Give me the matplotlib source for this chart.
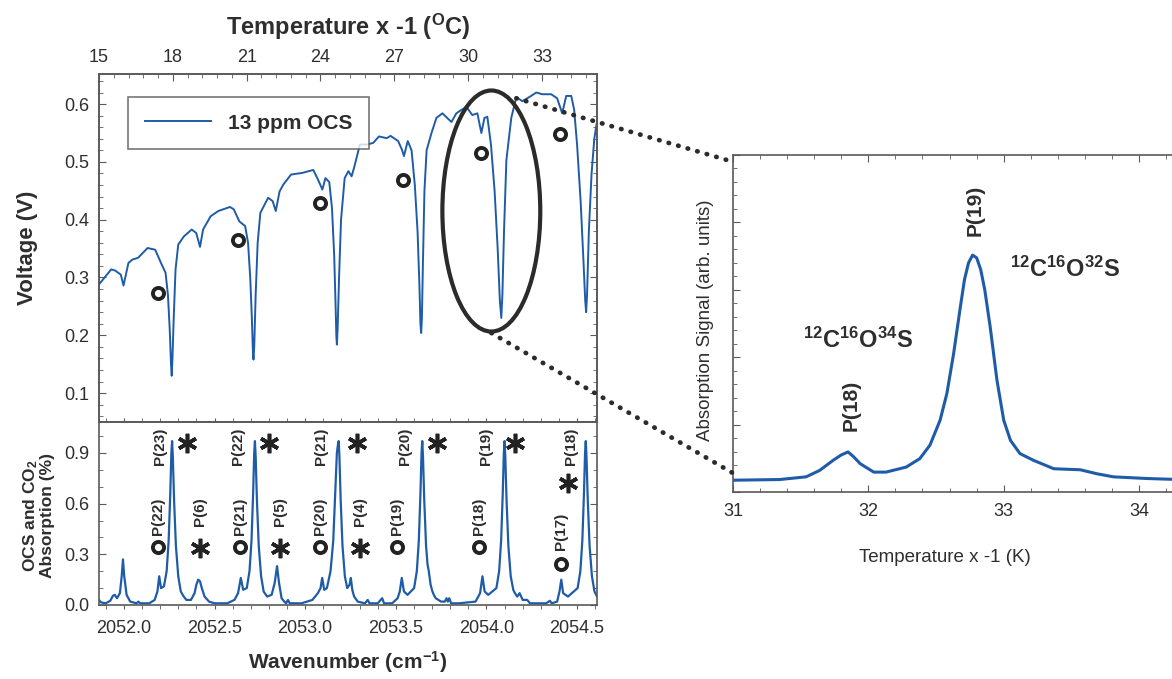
import numpy as np
import matplotlib
matplotlib.use("Agg")
import matplotlib.pyplot as plt
from matplotlib.patches import Ellipse, ConnectionPatch
from matplotlib.ticker import MultipleLocator, FormatStrFormatter

plt.rcParams['font.family'] = ['Liberation Sans', 'DejaVu Sans']
plt.rcParams['mathtext.fontset'] = 'custom'
plt.rcParams['mathtext.rm'] = 'Liberation Sans'
plt.rcParams['mathtext.bf'] = 'Liberation Sans:bold'
plt.rcParams['mathtext.it'] = 'Liberation Sans:italic'

BLUE = '#1f5ca8'
INK = '#2e2e2e'
SPINE = '#5a5a5a'

# --- top panel: detector voltage vs wavenumber (13 ppm OCS) ---
volt_wn = [2051.863, 2051.93, 2051.952, 2051.983, 2051.998, 2052.025, 2052.047, 2052.078,
           2052.131, 2052.173, 2052.205, 2052.230, 2052.243, 2052.253, 2052.260, 2052.264,
           2052.268, 2052.275, 2052.285, 2052.300, 2052.331, 2052.374, 2052.399, 2052.420,
           2052.437, 2052.479, 2052.521, 2052.585, 2052.606, 2052.637, 2052.669, 2052.685,
           2052.697, 2052.706, 2052.712, 2052.715, 2052.719, 2052.727, 2052.738, 2052.753,
           2052.796, 2052.821, 2052.838, 2052.859, 2052.880, 2052.922, 2052.985, 2053.045,
           2053.070, 2053.095, 2053.112, 2053.133, 2053.148, 2053.160, 2053.168, 2053.172,
           2053.175, 2053.179, 2053.187, 2053.198, 2053.218, 2053.239, 2053.256, 2053.270,
           2053.302, 2053.344, 2053.376, 2053.407, 2053.450, 2053.471, 2053.513, 2053.534,
           2053.545, 2053.566, 2053.587, 2053.605, 2053.620, 2053.630, 2053.636, 2053.640,
           2053.644, 2053.650, 2053.658, 2053.670, 2053.697, 2053.724, 2053.757, 2053.807,
           2053.834, 2053.862, 2053.890, 2053.922, 2053.950, 2053.972, 2053.989, 2054.005,
           2054.025, 2054.045, 2054.062, 2054.074, 2054.082, 2054.088, 2054.097, 2054.110,
           2054.137, 2054.165, 2054.198, 2054.236, 2054.275, 2054.308, 2054.357, 2054.390,
           2054.418, 2054.440, 2054.468, 2054.484, 2054.500, 2054.520, 2054.535, 2054.545,
           2054.550, 2054.555, 2054.565, 2054.580, 2054.595, 2054.610]
volt_v = [0.288, 0.314, 0.312, 0.305, 0.286, 0.325, 0.331, 0.334,
          0.351, 0.348, 0.325, 0.308, 0.27, 0.21, 0.15, 0.130,
          0.16, 0.23, 0.314, 0.357, 0.371, 0.383, 0.377, 0.353,
          0.383, 0.406, 0.415, 0.422, 0.418, 0.397, 0.389, 0.36,
          0.30, 0.23, 0.17, 0.158, 0.18, 0.27, 0.36, 0.412,
          0.438, 0.432, 0.415, 0.449, 0.461, 0.478, 0.481, 0.486,
          0.470, 0.452, 0.472, 0.465, 0.42, 0.34, 0.25, 0.20,
          0.184, 0.21, 0.30, 0.40, 0.472, 0.484, 0.475, 0.490,
          0.530, 0.530, 0.533, 0.544, 0.541, 0.545, 0.536, 0.521,
          0.510, 0.536, 0.520, 0.46, 0.38, 0.29, 0.22, 0.204,
          0.23, 0.33, 0.45, 0.52, 0.550, 0.576, 0.584, 0.569,
          0.584, 0.590, 0.595, 0.581, 0.584, 0.550, 0.576, 0.578,
          0.53, 0.45, 0.35, 0.26, 0.23, 0.27, 0.38, 0.503,
          0.576, 0.612, 0.605, 0.612, 0.620, 0.617, 0.617, 0.610,
          0.584, 0.614, 0.614, 0.590, 0.53, 0.43, 0.33, 0.26,
          0.24, 0.27, 0.38, 0.48, 0.54, 0.57]

# open circles marking the OCS isotopologue lines in the top panel
iso_mark_wn = [2052.19, 2052.631, 2053.08, 2053.538, 2053.972, 2054.407]
iso_mark_v = [0.273, 0.364, 0.429, 0.469, 0.515, 0.548]

# --- bottom panel: OCS and CO2 absorption (%) ---
abs_wn = [2051.862, 2051.875, 2051.900, 2051.925, 2051.940, 2051.950, 2051.962, 2051.978,
          2051.988, 2051.995, 2052.002, 2052.015, 2052.035, 2052.070, 2052.080, 2052.090,
          2052.140, 2052.170, 2052.185, 2052.195, 2052.205, 2052.221, 2052.236, 2052.247,
          2052.256, 2052.262, 2052.266, 2052.270, 2052.277, 2052.287, 2052.300, 2052.314,
          2052.330, 2052.345, 2052.370, 2052.390, 2052.400, 2052.410, 2052.420, 2052.430,
          2052.445, 2052.470, 2052.500, 2052.570, 2052.610, 2052.630, 2052.645, 2052.658,
          2052.678, 2052.693, 2052.704, 2052.713, 2052.719, 2052.723, 2052.727, 2052.734,
          2052.744, 2052.757, 2052.771, 2052.790, 2052.815, 2052.832, 2052.845, 2052.856,
          2052.870, 2052.885, 2052.895, 2052.905, 2052.915, 2052.980, 2053.040, 2053.070,
          2053.085, 2053.094, 2053.105, 2053.120, 2053.140, 2053.155, 2053.166, 2053.175,
          2053.181, 2053.185, 2053.189, 2053.196, 2053.206, 2053.219, 2053.232, 2053.245,
          2053.252, 2053.260, 2053.270, 2053.290, 2053.330, 2053.345, 2053.355, 2053.400,
          2053.425, 2053.435, 2053.480, 2053.510, 2053.522, 2053.533, 2053.545, 2053.565,
          2053.601, 2053.616, 2053.627, 2053.636, 2053.642, 2053.646, 2053.650, 2053.657,
          2053.667, 2053.675, 2053.682, 2053.692, 2053.702, 2053.710, 2053.720, 2053.750,
          2053.770, 2053.780, 2053.787, 2053.795, 2053.805, 2053.850, 2053.940, 2053.965,
          2053.978, 2053.990, 2054.010, 2054.055, 2054.070, 2054.081, 2054.090, 2054.096,
          2054.100, 2054.104, 2054.111, 2054.121, 2054.134, 2054.148, 2054.157, 2054.170,
          2054.183, 2054.200, 2054.225, 2054.240, 2054.330, 2054.350, 2054.360, 2054.390,
          2054.403, 2054.413, 2054.423, 2054.450, 2054.503, 2054.518, 2054.529, 2054.538,
          2054.544, 2054.548, 2054.552, 2054.559, 2054.569, 2054.582, 2054.596, 2054.610]
abs_pct = [0.03, 0.015, 0.01, 0.025, 0.055, 0.06, 0.04, 0.07,
           0.17, 0.27, 0.17, 0.06, 0.02, 0.01, 0.02, 0.01,
           0.01, 0.03, 0.08, 0.17, 0.10, 0.11, 0.20, 0.38,
           0.66, 0.90, 0.97, 0.88, 0.62, 0.35, 0.17, 0.08,
           0.05, 0.03, 0.03, 0.07, 0.12, 0.15, 0.14, 0.10,
           0.05, 0.02, 0.01, 0.01, 0.03, 0.07, 0.16, 0.09,
           0.10, 0.20, 0.38, 0.66, 0.90, 0.97, 0.88, 0.62,
           0.35, 0.17, 0.08, 0.05, 0.06, 0.13, 0.23, 0.13,
           0.04, 0.02, 0.01, 0.03, 0.01, 0.01, 0.03, 0.07,
           0.10, 0.16, 0.09, 0.10, 0.20, 0.38, 0.66, 0.90,
           0.95, 0.97, 0.88, 0.62, 0.35, 0.17, 0.10, 0.12,
           0.16, 0.09, 0.05, 0.02, 0.01, 0.03, 0.01, 0.01,
           0.04, 0.01, 0.01, 0.04, 0.08, 0.16, 0.08, 0.06,
           0.10, 0.20, 0.38, 0.66, 0.90, 0.97, 0.88, 0.62,
           0.35, 0.24, 0.20, 0.12, 0.08, 0.06, 0.04, 0.02,
           0.02, 0.04, 0.02, 0.04, 0.01, 0.01, 0.02, 0.07,
           0.17, 0.08, 0.06, 0.10, 0.20, 0.38, 0.66, 0.90,
           0.97, 0.88, 0.62, 0.35, 0.17, 0.09, 0.07, 0.05,
           0.07, 0.03, 0.03, 0.01, 0.01, 0.025, 0.01, 0.02,
           0.08, 0.15, 0.07, 0.05, 0.10, 0.20, 0.38, 0.66,
           0.90, 0.97, 0.88, 0.62, 0.35, 0.17, 0.08, 0.05]

# line assignments in the bottom panel
main_labels = ['P(23)', 'P(22)', 'P(21)', 'P(20)', 'P(19)', 'P(18)']
main_label_wn = [2052.197, 2052.63, 2053.087, 2053.55, 2053.998, 2054.467]
main_label_y = [0.94, 0.94, 0.94, 0.94, 0.94, 0.94]
main_star_wn = [2052.35, 2052.80, 2053.284, 2053.73, 2054.16, 2054.45]
main_star_y = [0.96, 0.96, 0.96, 0.96, 0.96, 0.72]
iso_labels = ['P(22)', 'P(21)', 'P(20)', 'P(19)', 'P(18)', 'P(17)']
iso_label_wn = [2052.186, 2052.64, 2053.08, 2053.507, 2053.96, 2054.41]
iso_label_y = [0.526, 0.526, 0.526, 0.526, 0.526, 0.437]
iso_circle_y = [0.345, 0.345, 0.345, 0.345, 0.345, 0.24]
co2_labels = ['P(6)', 'P(5)', 'P(4)']
co2_label_wn = [2052.42, 2052.862, 2053.30]
co2_label_y = [0.555, 0.555, 0.555]
co2_star_y = [0.34, 0.34, 0.34]

# --- right panel: zoom on P(19) vs temperature ---
zoom_T = [31.0, 31.345, 31.54, 31.64, 31.74, 31.80, 31.85, 31.89, 31.94, 32.04, 32.13,
          32.28, 32.38, 32.455, 32.53, 32.58, 32.63, 32.68, 32.71, 32.74, 32.77, 32.80,
          32.83, 32.86, 32.90, 32.95, 33.0, 33.05, 33.12, 33.22, 33.37, 33.565, 33.69,
          33.81, 34.06, 34.3]
zoom_sig = [0.035, 0.037, 0.045, 0.064, 0.094, 0.110, 0.119, 0.105, 0.084, 0.059, 0.059,
            0.074, 0.099, 0.139, 0.213, 0.292, 0.411, 0.55, 0.63, 0.68, 0.703, 0.695,
            0.66, 0.60, 0.49, 0.332, 0.213, 0.153, 0.114, 0.094, 0.069, 0.066, 0.054,
            0.045, 0.04, 0.037]

# circled region and connector anchors (top-panel data coords)
circle_center = (2054.027, 0.415)
circle_size = (0.54, 0.417)
link_top = (2054.165, 0.610)
link_bottom = (2054.027, 0.204)

fig = plt.figure(figsize=(11.72, 6.79), dpi=100)
ax1 = fig.add_axes([0.0845, 0.3785, 0.4249, 0.5125])
ax2 = fig.add_axes([0.0845, 0.109, 0.4249, 0.2695])
ax3 = fig.add_axes([0.6254, 0.2754, 0.3985, 0.4963])

xlim = (2051.863, 2054.61)


def style_spines(ax):
    for s in ax.spines.values():
        s.set_color(SPINE)
        s.set_linewidth(1.2)


# top panel
ax1.plot(volt_wn, volt_v, color=BLUE, lw=1.4, label='13 ppm OCS')
ax1.plot(iso_mark_wn, iso_mark_v, 'o', ms=8, mfc='white', mec='#222222', mew=2.8)
ax1.set_xlim(xlim)
ax1.set_ylim(0.05, 0.652)
ax1.yaxis.set_major_locator(MultipleLocator(0.1))
ax1.yaxis.set_minor_locator(MultipleLocator(0.02))
ax1.yaxis.set_major_formatter(FormatStrFormatter('%.1f'))
ax1.tick_params(axis='y', which='both', direction='in', right=True, labelsize=13,
                labelcolor=INK, color=SPINE, pad=7)
ax1.tick_params(axis='y', which='major', length=5)
ax1.tick_params(axis='y', which='minor', length=3)
ax1.tick_params(axis='x', which='both', bottom=False, labelbottom=False)
ax1.set_ylabel('Voltage (V)', fontsize=16, fontweight='bold', color=INK)
ax1.yaxis.set_label_coords(-0.122, 0.5)
style_spines(ax1)

leg = ax1.legend(loc='upper left', bbox_to_anchor=(0.058, 0.934), borderaxespad=0,
                 fancybox=False, edgecolor='#555555', handlelength=3.2,
                 borderpad=0.8, prop={'size': 15, 'weight': 'bold'})
leg.get_frame().set_linewidth(1.2)
for t in leg.get_texts():
    t.set_color(INK)

ell = Ellipse(circle_center, circle_size[0], circle_size[1], fill=False,
              ec='#2b2b2b', lw=3, zorder=5)
ax1.add_patch(ell)

# top temperature scale
axT = ax1.twiny()
axT.set_xlim(15, 35.24)
axT.xaxis.set_major_locator(MultipleLocator(3))
axT.xaxis.set_minor_locator(MultipleLocator(0.6))
axT.tick_params(axis='x', which='both', direction='in', labelsize=13, labelcolor=INK,
                color=SPINE, pad=6)
axT.tick_params(axis='x', which='major', length=5)
axT.tick_params(axis='x', which='minor', length=3)
axT.set_xlabel(r'Temperature x -1 ($^{\mathbf{O}}$C)', fontsize=17, fontweight='bold', color=INK)
axT.xaxis.set_label_coords(0.5, 1.112)
style_spines(axT)

# bottom panel
ax2.plot(abs_wn, abs_pct, color=BLUE, lw=1.6)
ax2.set_xlim(xlim)
ax2.set_ylim(0, 1.083)
for lab, x, y in zip(main_labels, main_label_wn, main_label_y):
    ax2.text(x, y, lab, rotation=90, ha='center', va='center', fontsize=11,
             fontweight='bold', color=INK)
for lab, x, y in zip(iso_labels, iso_label_wn, iso_label_y):
    ax2.text(x, y, lab, rotation=90, ha='center', va='center', fontsize=11,
             fontweight='bold', color=INK)
for lab, x, y in zip(co2_labels, co2_label_wn, co2_label_y):
    ax2.text(x, y, lab, rotation=90, ha='center', va='center', fontsize=11,
             fontweight='bold', color=INK)
ax2.plot(main_star_wn, main_star_y, ls='none', marker=(6, 2, 0), ms=14, mew=2.6, color='#222222')
ax2.plot(co2_label_wn, co2_star_y, ls='none', marker=(6, 2, 0), ms=14, mew=2.6, color='#222222')
ax2.plot(iso_label_wn, iso_circle_y, 'o', ms=8, mfc='white', mec='#222222', mew=2.8)
ax2.xaxis.set_major_locator(MultipleLocator(0.5))
ax2.xaxis.set_minor_locator(MultipleLocator(0.1))
ax2.xaxis.set_major_formatter(FormatStrFormatter('%.1f'))
ax2.yaxis.set_major_locator(MultipleLocator(0.3))
ax2.yaxis.set_minor_locator(MultipleLocator(0.1))
ax2.yaxis.set_major_formatter(FormatStrFormatter('%.1f'))
ax2.tick_params(axis='x', which='both', direction='out', top=True, labelsize=13,
                labelcolor=INK, color=SPINE, pad=8, length=3)
ax2.tick_params(axis='y', which='both', direction='in', right=True, labelsize=13,
                labelcolor=INK, color=SPINE, pad=7)
ax2.tick_params(axis='y', which='major', length=5)
ax2.tick_params(axis='y', which='minor', length=3)
ax2.set_xlabel(r'Wavenumber (cm$^{\mathbf{-1}}$)', fontsize=15, fontweight='bold', color=INK)
ax2.xaxis.set_label_coords(0.5, -0.24)
ax2.set_ylabel('OCS and CO$_{\\mathbf{2}}$\nAbsorption (%)', fontsize=12.5,
               fontweight='bold', color=INK, linespacing=1.05)
ax2.yaxis.set_label_coords(-0.088, 0.49)
style_spines(ax2)

# right panel
ax3.plot(zoom_T, zoom_sig, color=BLUE, lw=2.2)
ax3.set_xlim(31.0, 34.45)
ax3.set_ylim(0, 1)
ax3.xaxis.set_major_locator(MultipleLocator(1))
ax3.xaxis.set_minor_locator(MultipleLocator(0.2))
ax3.xaxis.set_major_formatter(FormatStrFormatter('%d'))
ax3.yaxis.set_major_locator(MultipleLocator(0.2))
ax3.yaxis.set_minor_locator(MultipleLocator(0.04))
ax3.tick_params(axis='both', which='both', direction='in', top=True, color=SPINE)
ax3.tick_params(axis='x', labelsize=13, labelcolor=INK, pad=8)
ax3.tick_params(axis='y', labelleft=False)
ax3.tick_params(which='major', length=5)
ax3.tick_params(which='minor', length=3)
ax3.spines['right'].set_visible(False)
ax3.set_xlabel('Temperature x -1 (K)', fontsize=13.5, color=INK)
ax3.xaxis.set_label_coords(0.454, -0.17)
ax3.set_ylabel('Absorption Signal (arb. units)', fontsize=13.5, color=INK)
ax3.yaxis.set_label_coords(-0.04, 0.51)
style_spines(ax3)
ax3.text(32.79, 0.837, 'P(19)', rotation=90, ha='center', va='center', fontsize=15,
         fontweight='bold', color=INK)
ax3.text(31.875, 0.257, 'P(18)', rotation=90, ha='center', va='center', fontsize=15,
         fontweight='bold', color=INK)
ax3.text(33.05, 0.66, r'$\mathbf{^{12}C^{16}O^{32}S}$', ha='left', va='center',
         fontsize=17, color=INK)
ax3.text(31.52, 0.45, r'$\mathbf{^{12}C^{16}O^{34}S}$', ha='left', va='center',
         fontsize=17, color=INK)

# dotted connectors from the circled line to the zoom panel
for anchor, corner in [(link_top, (0.0, 0.98)), (link_bottom, (0.0, 0.056))]:
    con = ConnectionPatch(xyA=anchor, coordsA=ax1.transData, xyB=corner,
                          coordsB=ax3.transAxes, color='#2b2b2b', lw=3.4,
                          linestyle=(0, (0.1, 2.0)), capstyle='round')
    fig.add_artist(con)

fig.savefig('out.png', dpi=100)
